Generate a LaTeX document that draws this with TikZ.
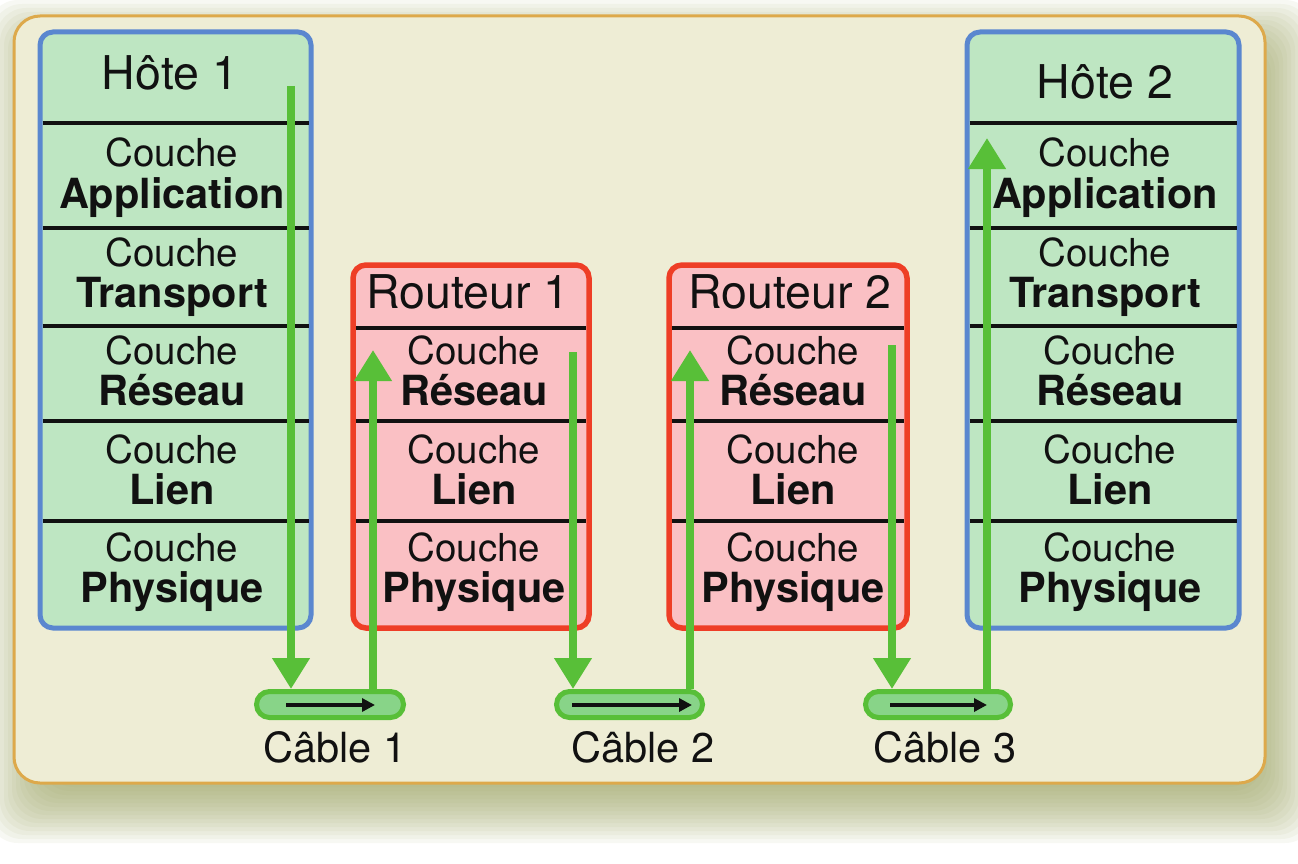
\documentclass[tikz,border=0pt]{standalone}
\usepackage{fontspec}
\setmainfont{TeX Gyre Heros}
\usetikzlibrary{arrows.meta}
\definecolor{panelfill}{HTML}{EEEDD5}
\definecolor{panelline}{HTML}{DDA94B}
\definecolor{hostfill}{HTML}{BEE6C2}
\definecolor{hostline}{HTML}{5A87CF}
\definecolor{routfill}{HTML}{FAC0C4}
\definecolor{routline}{HTML}{EE3E26}
\definecolor{garr}{HTML}{58BF38}
\definecolor{cabfill}{HTML}{88D488}
\definecolor{txt}{HTML}{111111}
\definecolor{shadowc}{HTML}{9BA35E}
\tikzset{
  panelbox/.style={draw=panelline, fill=panelfill, line width=3pt, rounded corners=26pt, inner sep=0pt, outer sep=0pt},
  hostbox/.style={draw=hostline, fill=hostfill, line width=5pt, rounded corners=13pt, inner sep=0pt, outer sep=0pt},
  routbox/.style={draw=routline, fill=routfill, line width=5.5pt, rounded corners=13pt, inner sep=0pt, outer sep=0pt},
  cablebox/.style={draw=garr, fill=cabfill, line width=5pt, rounded corners=13pt, inner sep=0pt},
  sepline/.style={draw=txt, line width=4pt},
  garrow/.style={draw=garr, line width=7.5pt, -{Triangle[width=36pt,length=31pt]}},
  karrow/.style={draw=txt, line width=3.5pt, -{Triangle[width=13pt,length=13pt]}},
  lbl/.style={anchor=base, text=txt, inner sep=0pt, font=\fontsize{38.5}{38.5}\selectfont},
  blbl/.style={anchor=base, text=txt, inner sep=0pt, font=\fontsize{41.5}{41.5}\selectfont\bfseries},
  ttl/.style={anchor=base, text=txt, inner sep=0pt, font=\fontsize{46.5}{46.5}\selectfont},
  cbl/.style={anchor=base, text=txt, inner sep=0pt, font=\fontsize{41.5}{41.5}\selectfont},
}
\newcommand\couchelayer[4]{%
  \node[lbl] (#1c) at (#2,#3) {Couche};
  \node[blbl] (#1b) at (#2,#3+41.5) {#4};
}
\begin{document}
\begin{tikzpicture}[x=1pt,y=-1pt]
\useasboundingbox (0,0) rectangle (1298,864);
\fill[white] (0,0) rectangle (1298,864);
% shadow
\foreach \e in {38,34,...,-38} {
  \fill[shadowc, opacity=0.07, rounded corners=30pt] ({26-(\e)},{38-(\e)}) rectangle ({1277+(\e)},{805+(\e)});
}
% panel
\node[panelbox, minimum width=1251pt, minimum height=767pt] (panel) at (639.5,399.5) {};
% boxes
\node[hostbox, minimum width=271pt, minimum height=596pt] (h1) at (175.5,330) {};
\node[hostbox, minimum width=272pt, minimum height=596pt] (h2) at (1103,330) {};
\node[routbox, minimum width=236pt, minimum height=363pt] (r1) at (471,446.5) {};
\node[routbox, minimum width=238pt, minimum height=363pt] (r2) at (788,446.5) {};
% separators
\foreach \y in {123,228,326,421,521} {
  \draw[sepline] (42.5,\y) -- (308.5,\y);
  \draw[sepline] (969.5,\y) -- (1236.5,\y);
}
\foreach \y in {328,421,521} {
  \draw[sepline] (355.75,\y) -- (586.25,\y);
  \draw[sepline] (671.75,\y) -- (904.25,\y);
}
% titles
\node[ttl] (h1t) at (170,90) {Hôte 1};
\node[ttl] (h2t) at (1105,99) {Hôte 2};
\node[ttl] (r1t) at (468,308) {Routeur 1};
\node[ttl] (r2t) at (790,308) {Routeur 2};
% host 1 layers
\couchelayer{h1l1}{172}{167}{Application}
\couchelayer{h1l2}{172}{266}{Transport}
\couchelayer{h1l3}{172}{364}{Réseau}
\couchelayer{h1l4}{172}{463}{Lien}
\couchelayer{h1l5}{172}{561}{Physique}
% host 2 layers
\couchelayer{h2l1}{1105}{167}{Application}
\couchelayer{h2l2}{1105}{266}{Transport}
\couchelayer{h2l3}{1110}{364}{Réseau}
\couchelayer{h2l4}{1110}{463}{Lien}
\couchelayer{h2l5}{1110}{561}{Physique}
% router layers
\couchelayer{r1l3}{474}{364}{Réseau}
\couchelayer{r1l4}{474}{463}{Lien}
\couchelayer{r1l5}{474}{561}{Physique}
\couchelayer{r2l3}{793}{364}{Réseau}
\couchelayer{r2l4}{793}{463}{Lien}
\couchelayer{r2l5}{793}{561}{Physique}
% cables
\node[cablebox, minimum width=147pt, minimum height=26pt] (c1) at (330,704.5) {};
\node[cablebox, minimum width=146pt, minimum height=26pt] (c2) at (629.5,704.5) {};
\node[cablebox, minimum width=145pt, minimum height=26pt] (c3) at (938,704.5) {};
\coordinate (c1a) at (286,705); \coordinate (c1b) at (375,705);
\coordinate (c2a) at (572,705); \coordinate (c2b) at (692,705);
\coordinate (c3a) at (890,705); \coordinate (c3b) at (987,705);
\draw[karrow] (c1a) -- (c1b);
\draw[karrow] (c2a) -- (c2b);
\draw[karrow] (c3a) -- (c3b);
\node[cbl] (c1l) at (335,762) {Câble 1};
\node[cbl] (c2l) at (643,762) {Câble 2};
\node[cbl] (c3l) at (945,762) {Câble 3};
% green flow arrows
\coordinate (h1d) at (291,86);
\coordinate (r1u) at (373,350);
\coordinate (r1d) at (573,352);
\coordinate (r2u) at (690,350);
\coordinate (r2d) at (892,345);
\coordinate (h2u) at (987,138);
\draw[garrow] (h1d) -- (c1.north -| h1d);
\draw[garrow] (c1.north -| r1u) -- (r1u);
\draw[garrow] (r1d) -- (c2.north -| r1d);
\draw[garrow] (c2.north -| r2u) -- (r2u);
\draw[garrow] (r2d) -- (c3.north -| r2d);
\draw[garrow] (c3.north -| h2u) -- (h2u);
\end{tikzpicture}
\end{document}
